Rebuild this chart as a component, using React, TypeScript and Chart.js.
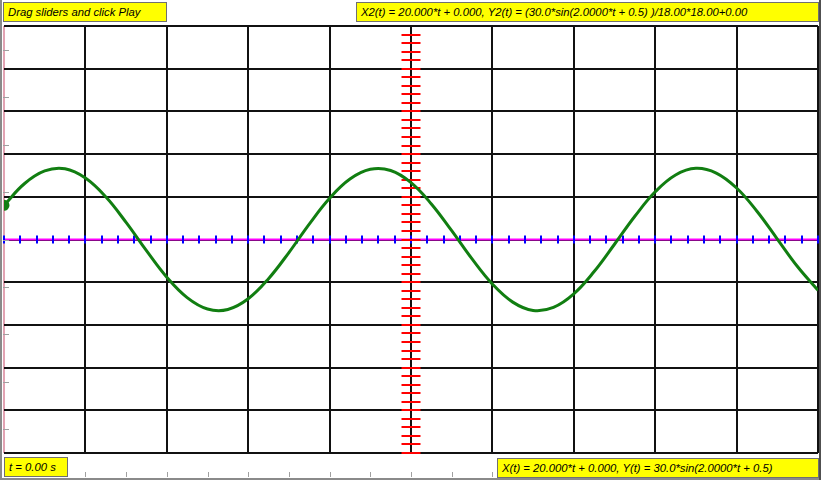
import React, { useEffect, useRef } from "react";
import { Chart, registerables } from "chart.js";

Chart.register(...registerables);

// ---- data ----
const X_VALUES = [0, 4, 8, 12, 16, 20, 24, 28, 32, 36, 40, 44, 48, 52, 56, 60, 64, 68, 72, 76, 80, 84, 88, 92, 96, 100, 104, 108, 112, 116, 120, 124, 128, 132, 136, 140, 144, 148, 152, 156, 160];
const Y_VALUES = [14.4, 23.5, 28.9, 29.8, 25.9, 18.0, 7.2, -4.7, -15.9, -24.5, -29.3, -29.5, -25.0, -16.5, -5.5, 6.5, 17.4, 25.5, 29.6, 29.1, 24.0, 15.0, 3.7, -8.2, -18.8, -26.4, -29.9, -28.6, -22.9, -13.5, -2.0, 9.8, 20.1, 27.2, 30.0, 28.0, 21.7, 11.9, 0.2, -11.5, -21.4];

// axis ranges / divisions
const X_RANGE = [0, 160];
const X_DIV = 16;
const Y_RANGE = [-90, 90];
const Y_DIV = 18;
const MINOR_PER_DIV = 5;
const BOTTOM_RULER_STEP = 8;
const LEFT_RULER_STEP = 20;

// labels
const LABEL_TOP_LEFT = "Drag sliders and click Play";
const LABEL_TOP_RIGHT = "X2(t) = 20.000*t + 0.000, Y2(t) = (30.0*sin(2.0000*t + 0.5) )/18.00*18.00+0.00";
const LABEL_BOTTOM_LEFT = "t = 0.00 s";
const LABEL_BOTTOM_RIGHT = "X(t) = 20.000*t + 0.000, Y(t) = 30.0*sin(2.0000*t + 0.5)";

const decorPlugin = {
  id: "scopeDecor",
  beforeDatasetsDraw(chart: any) {
    const { ctx, scales } = chart;
    const xs = scales.x;
    const ys = scales.y;
    const y0 = ys.getPixelForValue(0);
    const xc = xs.getPixelForValue((X_RANGE[0] + X_RANGE[1]) / 2);
    ctx.save();
    // magenta horizontal axis
    ctx.strokeStyle = "#ff00ff";
    ctx.lineWidth = 2;
    ctx.beginPath();
    ctx.moveTo(xs.getPixelForValue(X_RANGE[0]), y0);
    ctx.lineTo(xs.getPixelForValue(X_RANGE[1]), y0);
    ctx.stroke();
    // blue ticks on horizontal axis
    ctx.strokeStyle = "#0000ff";
    ctx.lineWidth = 2;
    const xMinor = X_DIV / MINOR_PER_DIV;
    for (let v = X_RANGE[0]; v <= X_RANGE[1] + 1e-6; v += xMinor) {
      const px = Math.round(xs.getPixelForValue(v));
      ctx.beginPath();
      ctx.moveTo(px, y0 - 4);
      ctx.lineTo(px, y0 + 4);
      ctx.stroke();
    }
    // red ticks on vertical centre axis
    ctx.strokeStyle = "#ff0000";
    const yMinor = Y_DIV / MINOR_PER_DIV;
    for (let v = Y_RANGE[0]; v < Y_RANGE[1] - 1e-6; v += yMinor) {
      const py = Math.round(ys.getPixelForValue(v));
      ctx.beginPath();
      ctx.moveTo(xc - 9.5, py);
      ctx.lineTo(xc + 9.5, py);
      ctx.stroke();
    }
    ctx.restore();
  },
  afterDraw(chart: any) {
    const { ctx, scales } = chart;
    const xs = scales.x;
    const ys = scales.y;
    ctx.save();
    ctx.strokeStyle = "#a0a0a0";
    ctx.lineWidth = 1;
    // bottom ruler ticks
    for (let v = X_RANGE[0]; v <= X_RANGE[1] + 1e-6; v += BOTTOM_RULER_STEP) {
      const px = Math.round(xs.getPixelForValue(v)) + 0.5;
      ctx.beginPath();
      ctx.moveTo(px, 472);
      ctx.lineTo(px, 477);
      ctx.stroke();
    }
    // left ruler ticks
    for (let v = -80; v <= 80 + 1e-6; v += LEFT_RULER_STEP) {
      const py = Math.round(ys.getPixelForValue(v)) + 0.5;
      ctx.beginPath();
      ctx.moveTo(3, py);
      ctx.lineTo(9, py);
      ctx.stroke();
    }
    ctx.restore();
  },
};

const boxStyle = (left: number, top: number, width: number, height: number): React.CSSProperties => ({
  position: "absolute",
  left,
  top,
  width,
  height,
  boxSizing: "border-box",
  background: "#ffff00",
  border: "1px solid #707070",
  fontFamily: '"Liberation Sans", Arial, sans-serif',
  fontStyle: "italic",
  fontSize: 11.3,
  lineHeight: `${height - 2}px`,
  paddingLeft: 4,
  color: "#000",
  whiteSpace: "nowrap",
  overflow: "hidden",
});

export default function App() {
  const canvasRef = useRef<HTMLCanvasElement | null>(null);

  useEffect(() => {
    const canvas = canvasRef.current;
    if (!canvas) return;
    const points = X_VALUES.map((x, i) => ({ x, y: Y_VALUES[i] }));
    const chart = new Chart(canvas, {
      type: "scatter",
      data: {
        datasets: [
          {
            data: points,
            showLine: true,
            borderColor: "#117e11",
            backgroundColor: "#117e11",
            borderWidth: 3,
            tension: 0.4,
            pointRadius: (c: any) => (c.dataIndex === 0 ? 4 : 0),
            pointHoverRadius: 0,
          },
        ],
      },
      options: {
        responsive: false,
        animation: false,
        events: [],
        layout: { autoPadding: false, padding: { left: 4, top: 26, right: 3, bottom: 27 } },
        plugins: { legend: { display: false }, tooltip: { enabled: false }, title: { display: false } },
        scales: {
          x: {
            type: "linear",
            min: X_RANGE[0],
            max: X_RANGE[1],
            ticks: { display: false, stepSize: X_DIV },
            grid: {
              drawTicks: false,
              lineWidth: 2,
              color: (c: any) => (c.tick && c.tick.value === X_RANGE[0] ? "#e2a3b3" : "#111111"),
            },
            border: { display: false },
          },
          y: {
            type: "linear",
            min: Y_RANGE[0],
            max: Y_RANGE[1],
            ticks: { display: false, stepSize: Y_DIV },
            grid: { drawTicks: false, lineWidth: 2, color: "#111111" },
            border: { display: false },
          },
        },
      },
      plugins: [decorPlugin],
    } as any);
    return () => chart.destroy();
  }, []);

  return (
    <div style={{ position: "fixed", left: 0, top: 0, width: 821, height: 480, background: "#fff", overflow: "hidden" }}>
      <canvas ref={canvasRef} width={821} height={480} style={{ position: "absolute", left: 0, top: 0, width: 821, height: 480 }} />
      <div style={{ position: "absolute", left: 0, top: 0, width: 2, height: 480, background: "#8a8a8a" }} />
      <div style={{ position: "absolute", left: 0, top: 478, width: 821, height: 2, background: "#8a8a8a" }} />
      <div style={{ position: "absolute", left: 819, top: 0, width: 2, height: 480, background: "#505050" }} />
      <div style={boxStyle(3, 2, 164, 20)}>{LABEL_TOP_LEFT}</div>
      <div style={boxStyle(356, 2, 463, 20)}>{LABEL_TOP_RIGHT}</div>
      <div style={boxStyle(4, 457, 64, 20)}>{LABEL_BOTTOM_LEFT}</div>
      <div style={boxStyle(497, 458, 322, 20)}>{LABEL_BOTTOM_RIGHT}</div>
    </div>
  );
}
